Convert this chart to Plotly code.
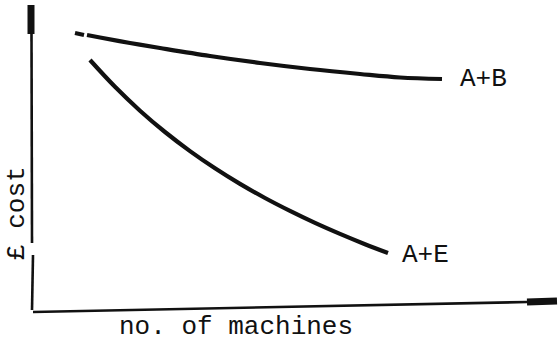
import plotly.graph_objects as go

# Relative cost against number of machines (arbitrary units)
machines_ab = [75, 84, None, 87, 100, 130, 160, 210, 260, 310, 360, 400, 442]
cost_ab = [312, 310, None, 310, 307.5, 302, 297, 289, 282, 276, 271, 267.5, 266]

machines_ae = [90, 115, 140, 165, 190, 215, 240, 265, 290, 315, 340, 365, 388]
cost_ae = [285, 258.2, 234.3, 213.0, 193.9, 176.7, 161.1, 147.0, 134.1,
           122.1, 111.1, 100.8, 92.0]

curve_labels = ["A+B", "A+E"]
x_title = "no. of machines"
y_title = "£ cost"

W, H = 558, 345
INK = "#111111"
FONT = "Liberation Mono"

fig = go.Figure()
for xs, ys in [(machines_ab, cost_ab), (machines_ae, cost_ae)]:
    fig.add_trace(go.Scatter(
        x=xs, y=ys, mode="lines",
        line=dict(color=INK, width=4.2, shape="spline", smoothing=1.0),
        connectgaps=False, hoverinfo="skip", showlegend=False,
    ))

# hand-drawn axes with blunt arrow heads
shapes = [
    dict(type="line", x0=32, y0=35, x1=33, y1=90, line=dict(color=INK, width=2.6)),
    dict(type="line", x0=32, y0=102, x1=31.5, y1=312, line=dict(color=INK, width=2.6)),
    dict(type="line", x0=31, y0=311, x1=31, y1=340, line=dict(color=INK, width=7)),
    dict(type="line", x0=33, y0=33, x1=527, y1=43, line=dict(color=INK, width=2.6)),
    dict(type="line", x0=527, y0=43, x1=557, y1=44, line=dict(color=INK, width=7)),
]

annotations = [
    dict(x=458, y=266, text=curve_labels[0], xanchor="left", yanchor="middle"),
    dict(x=400, y=90, text=curve_labels[1], xanchor="left", yanchor="middle"),
    dict(x=236, y=18, text=x_title, xanchor="center", yanchor="middle"),
    dict(x=17, y=132, text=y_title, textangle=-90, xanchor="center", yanchor="middle"),
]
for a in annotations:
    a.update(showarrow=False, font=dict(family=FONT, size=26, color=INK))

fig.update_layout(
    width=W, height=H,
    margin=dict(l=0, r=0, t=0, b=0),
    paper_bgcolor="white", plot_bgcolor="white",
    xaxis=dict(range=[0, W], visible=False, fixedrange=True),
    yaxis=dict(range=[0, H], visible=False, fixedrange=True),
    shapes=shapes, annotations=annotations,
)

fig.write_html("out.html")
